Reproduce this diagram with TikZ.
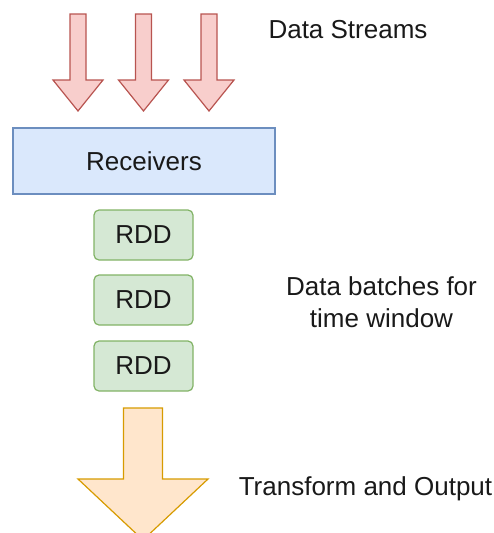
\documentclass[tikz,border=0pt]{standalone}
\usepackage{fontspec}
\setmainfont{Liberation Sans}
\definecolor{redfill}{HTML}{F8CECC}
\definecolor{redline}{HTML}{B85450}
\definecolor{bluefill}{HTML}{DAE8FC}
\definecolor{blueline}{HTML}{6C8EBF}
\definecolor{greenfill}{HTML}{D5E8D4}
\definecolor{greenline}{HTML}{82B366}
\definecolor{orangefill}{HTML}{FFE6CC}
\definecolor{orangeline}{HTML}{D79B00}
\tikzset{
  lbl/.style={font=\fontsize{26}{32}\selectfont, text=black!90, inner sep=0pt},
  rddbox/.style={draw=greenline, fill=greenfill, line width=1.2pt, rounded corners=5pt,
    minimum width=99pt, minimum height=50pt, inner sep=0pt, lbl},
  % block arrow pointing down: shaft half width, head half width, top, wing, tip
  pics/downarrow/.style n args={5}{code={
    \path[pic actions] (-#1,#3) -- (#1,#3) -- (#1,#4) -- (#2,#4) -- (0,#5)
      -- (-#2,#4) -- (-#1,#4) -- cycle;
  }}
}
\begin{document}
\begin{tikzpicture}[x=1pt, y=-1pt, line join=miter]
\useasboundingbox (0,0) rectangle (494,533);
\clip (0,0) rectangle (494,533);

% incoming streams
\foreach \cx in {78,143.5,209}
  \pic[draw=redline, fill=redfill, line width=1.2pt] at (\cx,0) {downarrow={8}{25}{14}{80}{111}};
\node[lbl, anchor=base] (streams) at (348,38) {Data Streams};

% receivers
\node[draw=blueline, fill=bluefill, line width=1.2pt, minimum width=262pt, minimum height=66pt,
  inner sep=0pt, lbl] (recv) at (144,161) {Receivers};

% batches
\node[rddbox] (rdd1) at (143.5,235) {RDD};
\node[rddbox] (rdd2) at (143.5,300) {RDD};
\node[rddbox] (rdd3) at (143.5,366) {RDD};
\node[lbl, align=center, anchor=base] (batches) at (381.5,327) {Data batches for\\time window};

% output
\pic[draw=orangeline, fill=orangefill, line width=1.2pt] at (143,0) {downarrow={19.5}{65}{408}{479}{540}};
\node[lbl, anchor=base] (out) at (365.5,495) {Transform and Output};
\end{tikzpicture}
\end{document}
